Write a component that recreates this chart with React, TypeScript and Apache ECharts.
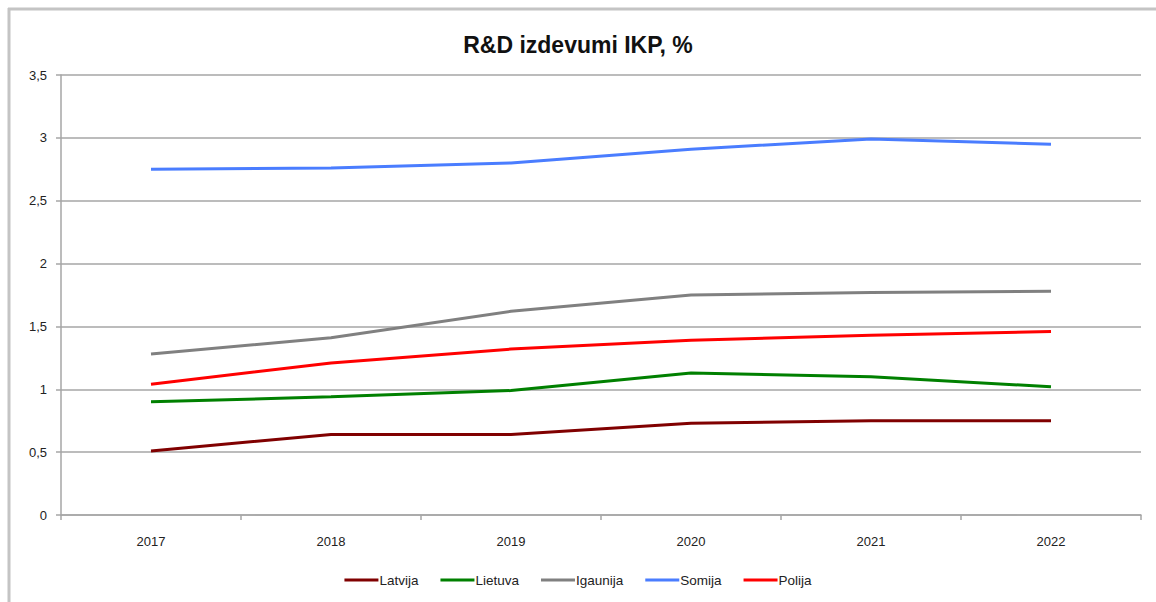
import React, { useEffect, useRef } from "react";
import * as echarts from "echarts";

const categories = ["2017", "2018", "2019", "2020", "2021", "2022"];
const latvija = [0.51, 0.64, 0.64, 0.73, 0.75, 0.75];
const lietuva = [0.9, 0.94, 0.99, 1.13, 1.1, 1.02];
const igaunija = [1.28, 1.41, 1.62, 1.75, 1.77, 1.78];
const somija = [2.75, 2.76, 2.8, 2.91, 2.99, 2.95];
const polija = [1.04, 1.21, 1.32, 1.39, 1.43, 1.46];

const seriesDefs = [
  { name: "Latvija", data: latvija, color: "#800000" },
  { name: "Lietuva", data: lietuva, color: "#008000" },
  { name: "Igaunija", data: igaunija, color: "#808080" },
  { name: "Somija", data: somija, color: "#4a7dff" },
  { name: "Polija", data: polija, color: "#ff0000" },
];

export default function App() {
  const ref = useRef<HTMLDivElement>(null);
  useEffect(() => {
    document.body.style.margin = "0";
    const chart = echarts.init(ref.current!, null, { renderer: "svg" });
    const font = "'Liberation Sans', Arial, sans-serif";
    chart.setOption({
      animation: false,
      backgroundColor: "#ffffff",
      textStyle: { fontFamily: font },
      title: {
        text: "R&D izdevumi IKP, %",
        left: "center",
        top: 28,
        textStyle: { fontSize: 23, fontWeight: "bold", color: "#111", fontFamily: font },
      },
      graphic: [
        { type: "line", shape: { x1: 8, y1: 9, x2: 1156, y2: 9 }, style: { stroke: "#c4c4c4", lineWidth: 3 } },
        { type: "line", shape: { x1: 9, y1: 8, x2: 9, y2: 602 }, style: { stroke: "#c4c4c4", lineWidth: 3 } },
      ],
      grid: { left: 61, right: 15, top: 75, bottom: 87, containLabel: false },
      legend: {
        bottom: 10,
        left: "center",
        icon: "rect",
        itemWidth: 34,
        itemHeight: 3,
        itemGap: 22,
        textStyle: { fontSize: 13.5, color: "#222", padding: [0, 0, 0, -4] },
        data: seriesDefs.map((s) => s.name),
      },
      xAxis: {
        type: "category",
        data: categories,
        boundaryGap: true,
        axisLine: { lineStyle: { color: "#a6a6a6", width: 1.5 } },
        axisTick: { show: true, length: 5, lineStyle: { color: "#a6a6a6", width: 1.5 } },
        axisLabel: { fontSize: 13, color: "#222", margin: 20 },
      },
      yAxis: {
        type: "value",
        min: 0,
        max: 3.5,
        interval: 0.5,
        axisLine: { show: true, lineStyle: { color: "#a6a6a6", width: 1.5 } },
        axisTick: { show: true, length: 5, lineStyle: { color: "#a6a6a6", width: 1.5 } },
        splitLine: { show: true, lineStyle: { color: "#a6a6a6", width: 1.5 } },
        axisLabel: {
          fontSize: 13,
          color: "#222",
          margin: 14,
          formatter: (v: number) => String(v).replace(".", ","),
        },
      },
      series: seriesDefs.map((s) => ({
        name: s.name,
        type: "line",
        data: s.data,
        showSymbol: false,
        symbol: "none",
        lineStyle: { color: s.color, width: 3 },
        itemStyle: { color: s.color },
      })),
    });
    return () => chart.dispose();
  }, []);
  return <div ref={ref} style={{ width: 1156, height: 602 }} />;
}
